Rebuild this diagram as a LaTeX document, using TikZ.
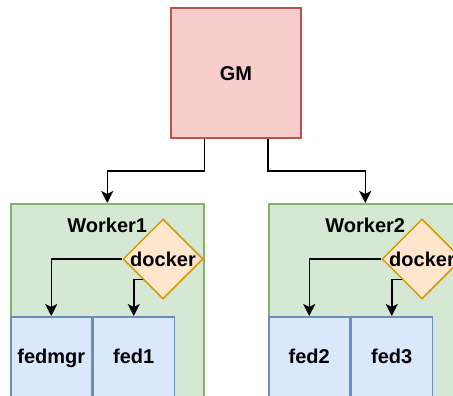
\documentclass[tikz,border=0pt]{standalone}
\usepackage{fontspec}
\setmainfont{Liberation Sans}
\usetikzlibrary{shapes.geometric,arrows.meta,calc}

\definecolor{gmfill}{HTML}{F8CECC}
\definecolor{gmline}{HTML}{B85450}
\definecolor{wfill}{HTML}{D5E8D4}
\definecolor{wline}{HTML}{82B366}
\definecolor{ffill}{HTML}{DAE8FC}
\definecolor{fline}{HTML}{6C8EBF}
\definecolor{dfill}{HTML}{FFE6CC}
\definecolor{dline}{HTML}{D79B00}

\tikzset{
  txt/.style={font=\fontsize{20}{24}\selectfont\bfseries, text height=14.4pt, text depth=0pt},
  box/.style={draw, line width=1.5pt, inner sep=0pt, txt},
  gmbox/.style={box, fill=gmfill, draw=gmline, minimum width=130pt, minimum height=130pt},
  workerbox/.style={box, fill=wfill, draw=wline, minimum width=193pt, minimum height=230pt, anchor=north west},
  fedbox/.style={box, fill=ffill, draw=fline, minimum width=81pt, minimum height=80pt},
  dockbox/.style={diamond, draw=dline, fill=dfill, line width=1.5pt, inner sep=0pt,
    minimum width=80pt, minimum height=80pt, label={[txt, inner sep=0pt]center:docker}},
  arr/.style={line width=1.5pt, -{Stealth[length=12pt, width=12pt, inset=3pt]}}
}

\begin{document}
\begin{tikzpicture}[x=1pt,y=-1pt]
	\useasboundingbox (0,0) rectangle (453,396);
	\clip (0,0) rectangle (453,395.2);

	\node[gmbox] (gm) at (236,73) {GM};

	\node[workerbox] (worker1) at (10,203) {};
	\node[workerbox] (worker2) at (268,203) {};
	\node[txt] (title1) at ($(worker1.north)+(0,22)$) {Worker1};
	\node[txt] (title2) at ($(worker2.north)+(0,22)$) {Worker2};

	\node[fedbox, anchor=north west] (fedmgr) at (10,316) {fedmgr};
	\node[fedbox, anchor=west] (fed1) at (fedmgr.east) {fed1};
	\node[fedbox, anchor=north west] (fed2) at (268,316) {fed2};
	\node[fedbox, anchor=west] (fed3) at (fed2.east) {fed3};

	\node[dockbox] (dock1) at (163,259) {};
	\node[dockbox] (dock2) at (422,259) {};

	\draw[arr] (gm.south -| worker1.east) -- ++(0,32) -| (worker1.north); %to worker1
	\draw[arr] (gm.south -| worker2.west) -- ++(0,32) -| (worker2.north); %to worker2

	\draw[arr] (dock1.west) -| (fedmgr.north);
	\draw[arr] (dock1.south west) -| (fed1.north);
	\draw[arr] (dock2.west) -| (fed2.north);
	\draw[arr] (dock2.south west) -| (fed3.north);

\end{tikzpicture}
\end{document}
